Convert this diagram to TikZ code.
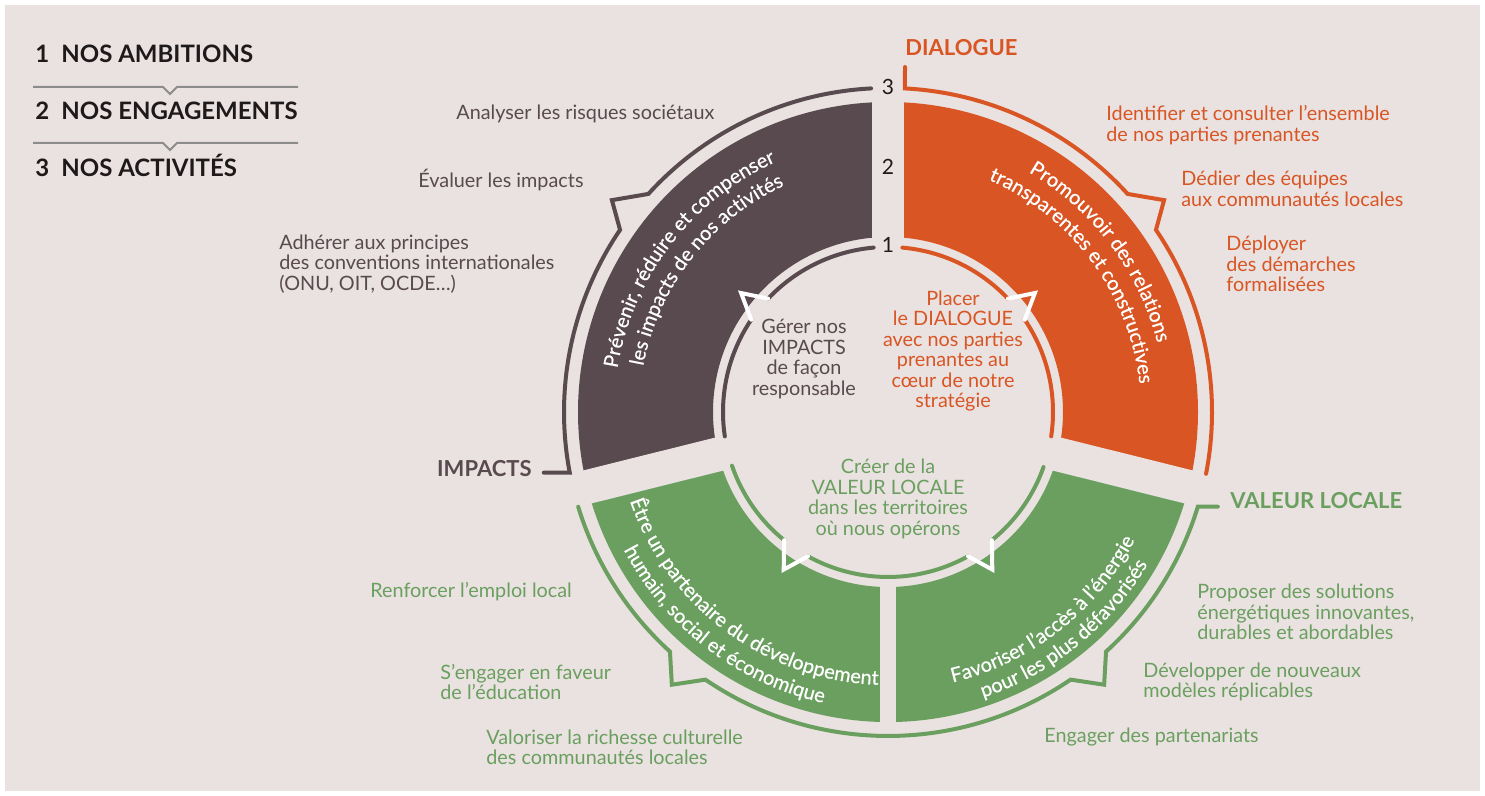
\documentclass[tikz,border=0pt]{standalone}
\usepackage{fontspec}
\setmainfont{Lato}
\newfontfamily\arcfamily{Lato}[FakeBold=0.5]
\usetikzlibrary{decorations.text}

\definecolor{bgc}{HTML}{E9E2E0}
\definecolor{darkc}{HTML}{594A4F}
\definecolor{orangec}{HTML}{D95524}
\definecolor{greenc}{HTML}{6B9F60}
\definecolor{legc}{HTML}{8C8C8C}
\definecolor{inkc}{HTML}{1E1A1B}
\newcommand\arcfont{\arcfamily\fontsize{10}{11}\selectfont\color{white}}

\begin{document}
\begin{tikzpicture}
  [x=0.5pt, y=0.5pt,
   every node/.style={inner sep=0pt, font=\fontsize{9.9}{10.2}\selectfont},
   ring/.style={line width=2pt, line cap=round, line join=miter},
   gap/.style={bgc, line width=#1},
   sidetxt/.style={anchor=west, align=left},
   midtxt/.style={align=center},
   legtxt/.style={anchor=base west, text=inkc, font=\fontsize{12}{14}\selectfont\bfseries},
   tagtxt/.style={font=\fontsize{11}{13}\selectfont\bfseries},
   numtxt/.style={text=inkc, font=\fontsize{10.5}{12}\selectfont},
   arctxt/.style={decorate, decoration={text along path, text align=center,
     text={|\arcfont|#1}}}]

  \fill[white] (0,0) rectangle (1485,796);
  \fill[bgc] (5,5) rectangle (1480,791);

  % legend
  \node[legtxt] (ambitions)   at (35,733) {\makebox[13pt][l]{1}NOS AMBITIONS};
  \node[legtxt] (engagements) at (35,676) {\makebox[13pt][l]{2}NOS ENGAGEMENTS};
  \node[legtxt] (activites)   at (35,619) {\makebox[13pt][l]{3}NOS ACTIVITÉS};
  \draw[legc, line width=1pt] (33,709) -- (163,709) -- (170,702) -- (177,709) -- (298,709);
  \draw[legc, line width=1pt] (33,653) -- (163,653) -- (170,646) -- (177,653) -- (298,653);

  \begin{scope}[shift={(888,384)}]
    % sectors
    \fill[darkc] (90:175) arc[start angle=90, end angle=194, radius=175]
      -- (194:310) arc[start angle=194, end angle=90, radius=310] -- cycle;
    \fill[orangec] (-14:175) arc[start angle=-14, end angle=90, radius=175]
      -- (90:310) arc[start angle=90, end angle=-14, radius=310] -- cycle;
    \fill[greenc] (194:175) arc[start angle=194, end angle=346, radius=175]
      -- (346:310) arc[start angle=346, end angle=194, radius=310] -- cycle;
    \draw[gap=16pt] (90:168) -- (90:317);
    \draw[gap=17pt] (194:168) -- (194:317);
    \draw[gap=17pt] (346:168) -- (346:317);
    \draw[gap=8pt] (270:168) -- (270:317);

    % outer lines (3)
    \draw[ring, darkc] (93:324) arc[start angle=93, end angle=137.7, radius=324]
      -- (142.5:348) -- (145.8:324) arc[start angle=145.8, end angle=190.8, radius=324]
      -- ++(-26,0);
    \draw[ring, orangec] (17,345) -- (87:324) arc[start angle=87, end angle=42.3, radius=324]
      -- (37.5:348) -- (34.2:324) arc[start angle=34.2, end angle=-11, radius=324];
    \draw[ring, greenc] (197:324) arc[start angle=197, end angle=227.7, radius=324]
      -- (231.6:348) -- (235.7:324) arc[start angle=235.7, end angle=304.3, radius=324]
      -- (308.4:348) -- (312.3:324) arc[start angle=312.3, end angle=343, radius=324]
      -- ++(20,0);

    % inner lines (1)
    \draw[ring, darkc] (95:165) arc[start angle=95, end angle=136.6, radius=165];
    \draw[ring, darkc] (146:165) arc[start angle=146, end angle=188.5, radius=165];
    \draw[ring, white] (136.6:165) -- (141:189) -- (146:165);
    \draw[ring, orangec] (85:165) arc[start angle=85, end angle=43.4, radius=165];
    \draw[ring, orangec] (34:165) arc[start angle=34, end angle=-8.5, radius=165];
    \draw[ring, white] (43.4:165) -- (39:189) -- (34:165);
    \draw[ring, greenc] (199:165) arc[start angle=199, end angle=231, radius=165];
    \draw[ring, greenc] (241:165) arc[start angle=241, end angle=299, radius=165];
    \draw[ring, greenc] (309:165) arc[start angle=309, end angle=340.5, radius=165];
    \draw[ring, white] (231:165) -- (236.5:189) -- (241:165);
    \draw[ring, white] (309:165) -- (303.5:189) -- (299:165);

    % texts in the sectors
    \path[arctxt={Prévenir, réduire et compenser}]
      (185:274) arc[start angle=185, end angle=100, radius=274];
    \path[arctxt={les impacts de nos activités}]
      (184:249) arc[start angle=184, end angle=100, radius=249];
    \path[arctxt={Promouvoir des relations}]
      (80:278) arc[start angle=80, end angle=-6, radius=278];
    \path[arctxt={transparentes et constructives}]
      (80:253) arc[start angle=80, end angle=-7, radius=253];
    \path[arctxt={Être un partenaire du développement}]
      (188:273) arc[start angle=188, end angle=279, radius=273];
    \path[arctxt={humain, social et économique}]
      (190:298) arc[start angle=190, end angle=275, radius=298];
    \path[arctxt={Favoriser l’accès à l’énergie}]
      (265:278) arc[start angle=265, end angle=351, radius=278];
    \path[arctxt={pour les plus défavorisés}]
      (267:301) arc[start angle=267, end angle=351, radius=301];
  \end{scope}

  % level numbers
  \node[numtxt] (lvl3) at (888,709) {3};
  \node[numtxt] (lvl2) at (888,629) {2};
  \node[numtxt] (lvl1) at (888,551) {1};

  % tags
  \node[tagtxt, text=orangec, anchor=west] (dialogue) at (905,748) {DIALOGUE};
  \node[tagtxt, text=darkc, anchor=east] (impacts) at (532,327) {IMPACTS};
  \node[tagtxt, text=greenc, anchor=west] (valeur) at (1230,295) {VALEUR LOCALE};

  % centre
  \node[midtxt, text=darkc] (gerer) at (804,437) {Gérer nos\\IMPACTS\\de façon\\responsable};
  \node[midtxt, text=orangec] (placer) at (953,445) {Placer\\le DIALOGUE\\avec nos parties\\prenantes au\\cœur de notre\\stratégie};
  \node[midtxt, text=greenc] (creer) at (888,297) {Créer de la\\VALEUR LOCALE\\dans les territoires\\où nous opérons};

  % activities
  \node[sidetxt, text=darkc] (analyser) at (456,682) {Analyser les risques sociétaux};
  \node[sidetxt, text=darkc] (evaluer) at (418,616) {Évaluer les impacts};
  \node[sidetxt, text=darkc] (adherer) at (279,532) {Adhérer aux principes\\des conventions internationales\\(ONU, OIT, OCDE…)};
  \node[sidetxt, text=orangec] (identifier) at (1106,671) {Identifier et consulter l’ensemble\\de nos parties prenantes};
  \node[sidetxt, text=orangec] (dedier) at (1181,607) {Dédier des équipes\\aux communautés locales};
  \node[sidetxt, text=orangec] (deployer) at (1226,532) {Déployer\\des démarches\\formalisées};
  \node[sidetxt, text=greenc] (renforcer) at (370,204) {Renforcer l’emploi local};
  \node[sidetxt, text=greenc] (engager) at (440,114) {S’engager en faveur\\de l’éducation};
  \node[sidetxt, text=greenc] (valoriser) at (486,49) {Valoriser la richesse culturelle\\des communautés locales};
  \node[sidetxt, text=greenc] (proposer) at (1197,184) {Proposer des solutions\\énergétiques innovantes,\\durables et abordables};
  \node[sidetxt, text=greenc] (developper) at (1143,114) {Développer de nouveaux\\modèles réplicables};
  \node[sidetxt, text=greenc] (partenariats) at (1044,59) {Engager des partenariats};
\end{tikzpicture}
\end{document}
